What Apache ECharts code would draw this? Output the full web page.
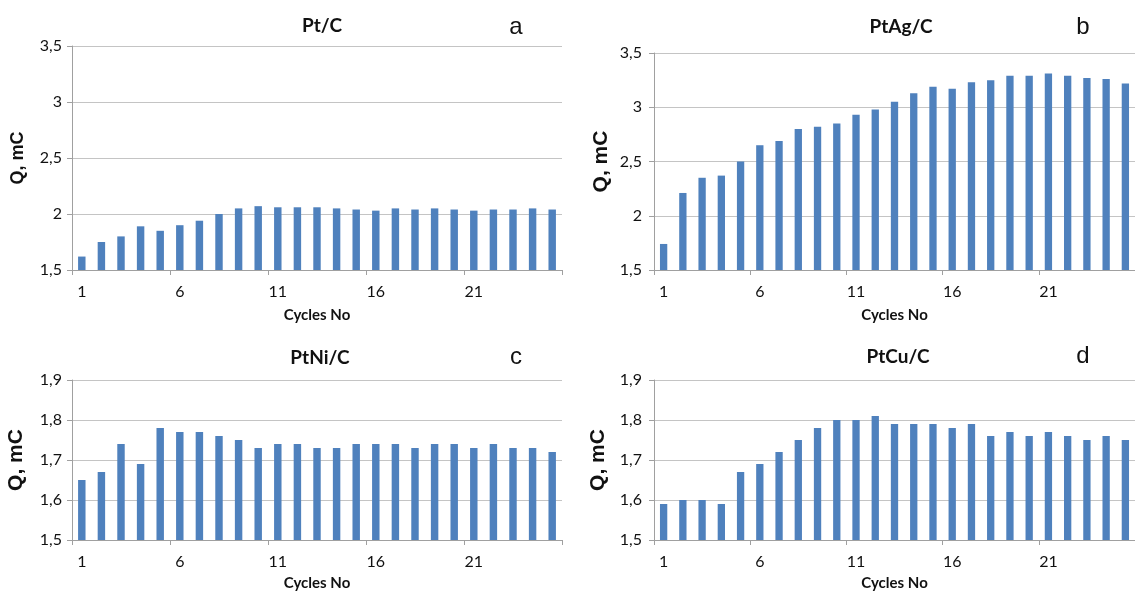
<!DOCTYPE html>
<html>
<head>
<meta charset="utf-8">
<script src="https://cdn.jsdelivr.net/npm/echarts@6/dist/echarts.min.js"></script>
<style>
  html, body { margin: 0; padding: 0; background: #fff; }
  #chart { width: 1135px; height: 592px; }
</style>
</head>
<body>
<div id="chart"></div>
<script>
// cycle numbers on the x axis
const cycles = ['1', '2', '3', '4', '5', '6', '7', '8', '9', '10', '11', '12', '13',
  '14', '15', '16', '17', '18', '19', '20', '21', '22', '23', '24', '25'];

// charge Q, mC per cycle
const ptC = [1.62, 1.75, 1.80, 1.89, 1.85, 1.90, 1.94, 2.00, 2.05, 2.07, 2.06, 2.06, 2.06,
  2.05, 2.04, 2.03, 2.05, 2.04, 2.05, 2.04, 2.03, 2.04, 2.04, 2.05, 2.04];
const ptAgC = [1.74, 2.21, 2.35, 2.37, 2.50, 2.65, 2.69, 2.80, 2.82, 2.85, 2.93, 2.98, 3.05,
  3.13, 3.19, 3.17, 3.23, 3.25, 3.29, 3.29, 3.31, 3.29, 3.27, 3.26, 3.22];
const ptNiC = [1.65, 1.67, 1.74, 1.69, 1.78, 1.77, 1.77, 1.76, 1.75, 1.73, 1.74, 1.74, 1.73,
  1.73, 1.74, 1.74, 1.74, 1.73, 1.74, 1.74, 1.73, 1.74, 1.73, 1.73, 1.72];
const ptCuC = [1.59, 1.60, 1.60, 1.59, 1.67, 1.69, 1.72, 1.75, 1.78, 1.80, 1.80, 1.81, 1.79,
  1.79, 1.79, 1.78, 1.79, 1.76, 1.77, 1.76, 1.77, 1.76, 1.75, 1.76, 1.75];

const panelTitles = ['Pt/C', 'PtAg/C', 'PtNi/C', 'PtCu/C'];
const panelLetters = ['a', 'b', 'c', 'd'];
const yMin = [1.5, 1.5, 1.5, 1.5];
const yMax = [3.5, 3.5, 1.9, 1.9];
const yStep = [0.5, 0.5, 0.1, 0.1];

const seriesData = [ptC, ptAgC, ptNiC, ptCuC];

// layout of the four panels (px)
const grids = [
  { left: 72, top: 46, width: 490, height: 224 },
  { left: 654, top: 53, width: 487, height: 217 },
  { left: 72, top: 380, width: 490, height: 160 },
  { left: 654, top: 380, width: 487, height: 160 }
];
const titlePos = [[322, 26], [901, 27], [320, 358], [898, 357]];
const letterPos = [[516, 27], [1083, 27], [516, 357], [1083, 356]];
const yNameSize = [18, 21, 21, 21];
const yNameGap = [45, 42, 45, 45];
const xNameGap = [38, 38, 36, 36];
const yLabelMargin = [10, 12, 10, 12];

const fmt = v => (Math.round(v * 10) / 10).toString().replace('.', ',');

const chart = echarts.init(document.getElementById('chart'));

const option = {
  animation: false,
  backgroundColor: '#fff',
  grid: grids.map(g => ({ ...g, containLabel: false })),
  xAxis: grids.map((g, i) => ({
    type: 'category',
    gridIndex: i,
    data: cycles,
    boundaryGap: true,
    name: 'Cycles No',
    nameLocation: 'middle',
    nameGap: xNameGap[i],
    nameTextStyle: { fontFamily: 'Lato', fontWeight: 'bold', fontSize: 15, color: '#111' },
    axisLine: { lineStyle: { color: '#a0a0a0', width: 1 } },
    axisTick: { show: true, interval: 4, length: 5, lineStyle: { color: '#a0a0a0' } },
    axisLabel: { interval: 4, margin: 14, fontFamily: 'Lato', fontSize: 16, color: '#111' },
    splitLine: { show: false }
  })),
  yAxis: grids.map((g, i) => ({
    type: 'value',
    gridIndex: i,
    min: yMin[i],
    max: yMax[i],
    interval: yStep[i],
    name: 'Q, mC',
    nameLocation: 'middle',
    nameGap: yNameGap[i],
    nameTextStyle: { fontFamily: 'Liberation Sans', fontWeight: 'bold', fontSize: yNameSize[i], color: '#111' },
    axisLine: { show: true, lineStyle: { color: '#a0a0a0', width: 1 } },
    axisTick: { show: true, length: 5, lineStyle: { color: '#a0a0a0' } },
    axisLabel: { margin: yLabelMargin[i], fontFamily: 'Lato', fontSize: 16, color: '#111', formatter: fmt },
    splitLine: { show: true, lineStyle: { color: '#c4c4c4', width: 1 } }
  })),
  series: seriesData.map((d, i) => ({
    type: 'bar',
    xAxisIndex: i,
    yAxisIndex: i,
    data: d,
    barWidth: '38%',
    itemStyle: { color: '#4f81bd' }
  })),
  graphic: [
    ...panelTitles.map((t, i) => ({
      type: 'text',
      x: titlePos[i][0],
      y: titlePos[i][1],
      style: {
        text: t,
        textAlign: 'center',
        textVerticalAlign: 'middle',
        font: 'bold 19px Lato',
        fill: '#111'
      }
    })),
    ...panelLetters.map((t, i) => ({
      type: 'text',
      x: letterPos[i][0],
      y: letterPos[i][1],
      style: {
        text: t,
        textAlign: 'center',
        textVerticalAlign: 'middle',
        font: '24px "Liberation Sans"',
        fill: '#111'
      }
    }))
  ]
};

chart.setOption(option);
</script>
</body>
</html>
